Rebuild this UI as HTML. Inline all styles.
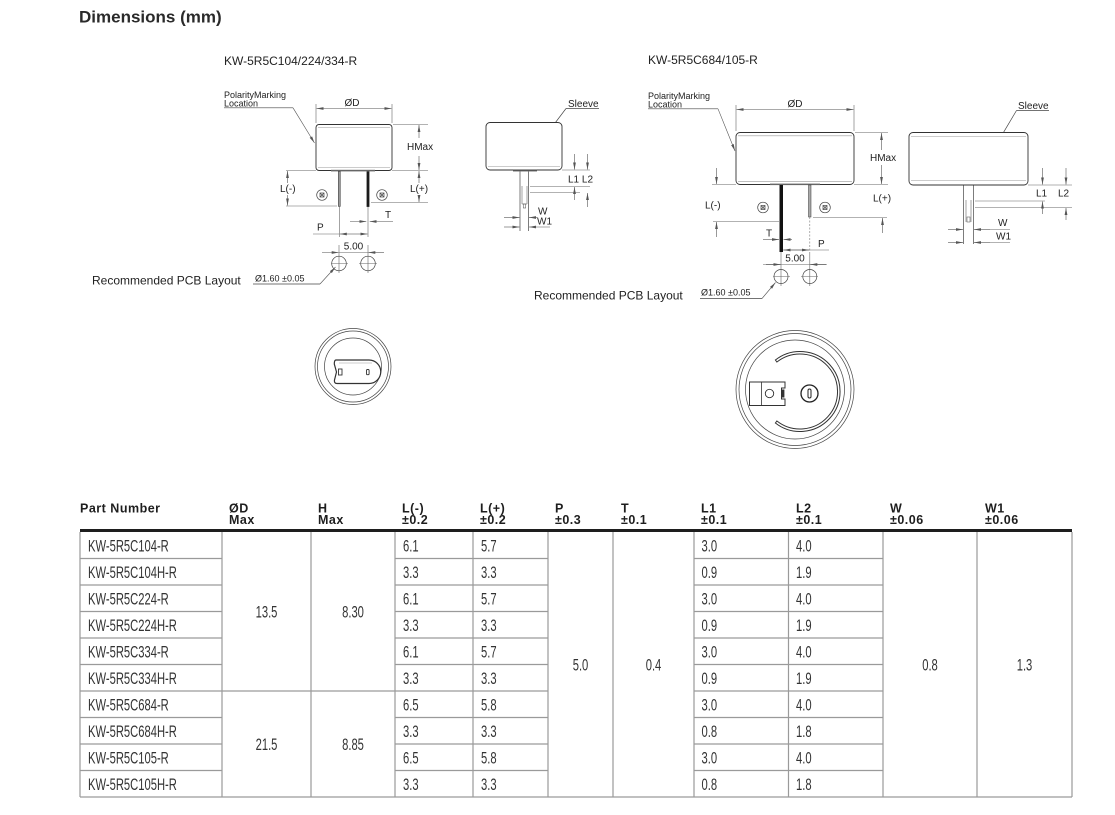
<!DOCTYPE html>
<html>
<head>
<meta charset="utf-8">
<style>
  html,body{margin:0;padding:0;background:#fff;}
  body{width:1115px;height:815px;overflow:hidden;position:relative;}
  svg{position:absolute;left:0;top:0;}
  .s{fill:#fff;stroke:#333;stroke-width:.9}
  .l{fill:none;stroke:#444;stroke-width:.7}
  .g{fill:none;stroke:#999;stroke-width:.6}
  .x{fill:none;stroke:#666;stroke-width:.6}
  .a{fill:none;stroke:#555;stroke-width:.6;marker-end:url(#ar)}
  .d{font-family:"Liberation Sans",sans-serif;font-size:10px;fill:#222}
  .sm{font-family:"Liberation Sans",sans-serif;font-size:9px;fill:#222}
  .h{font-family:"Liberation Sans",sans-serif;font-size:12px;fill:#222}
  .hd{font-family:"Liberation Sans",sans-serif;font-size:12.5px;font-weight:bold;fill:#1e1e1e;letter-spacing:.5px}
  .td{font-family:"Liberation Sans",sans-serif;font-size:17px;fill:#333}
  .grid{stroke:#9a9a9a;stroke-width:1.2;fill:none}
</style>
</head>
<body>
<svg width="1115" height="815" viewBox="0 0 1115 815" xmlns="http://www.w3.org/2000/svg">
<defs>
  <marker id="ar" viewBox="0 0 8 4" refX="8" refY="2" markerWidth="7" markerHeight="3.5" markerUnits="userSpaceOnUse" orient="auto">
    <path d="M0,0.4 L8,2 L0,3.6 Z" fill="#555"/>
  </marker>
</defs>

<!-- Title -->
<text x="79" y="22.5" style="font-family:'Liberation Sans',sans-serif;font-size:17px;font-weight:bold;fill:#2a2a2a">Dimensions (mm)</text>
<text x="224" y="65" class="h">KW-5R5C104/224/334-R</text>
<text x="648" y="64" class="h">KW-5R5C684/105-R</text>

<!-- ===== Drawing A : left front ===== -->
<text x="224" y="98" class="sm">PolarityMarking</text>
<text x="224" y="106.3" class="sm">Location</text>
<line x1="224" y1="107.8" x2="293" y2="107.8" class="l"/>
<line x1="293" y1="107.8" x2="314.5" y2="143" class="a"/>

<line x1="316" y1="104" x2="316" y2="123" class="x"/>
<line x1="392" y1="104" x2="392" y2="123" class="x"/>
<line x1="352" y1="108.5" x2="316.5" y2="108.5" class="a"/>
<line x1="352" y1="108.5" x2="391.5" y2="108.5" class="a"/>
<text x="352" y="106" class="d" text-anchor="middle">ØD</text>

<rect x="316" y="124.5" width="76" height="46" rx="3" class="s"/>
<line x1="318" y1="127.5" x2="390" y2="127.5" class="g"/>
<line x1="318" y1="167.5" x2="390" y2="167.5" class="g"/>
<rect x="331" y="169.8" width="44" height="1.6" fill="#666"/>

<line x1="393" y1="124.5" x2="428" y2="124.5" class="x"/>
<line x1="286" y1="170.5" x2="316" y2="170.5" class="x"/>
<line x1="392" y1="170.5" x2="428" y2="170.5" class="x"/>
<line x1="419" y1="138" x2="419" y2="125" class="a"/>
<line x1="419" y1="156" x2="419" y2="170" class="a"/>
<text x="407" y="150" class="d">HMax</text>

<rect x="338.3" y="171.4" width="2" height="35" fill="#999" stroke="#333" stroke-width=".5"/>
<rect x="366.6" y="171.4" width="2.8" height="35.5" fill="#1a1a1a"/>

<line x1="287.5" y1="183" x2="287.5" y2="171" class="a"/>
<line x1="287.5" y1="195" x2="287.5" y2="205.5" class="a"/>
<line x1="286" y1="206" x2="337" y2="206" class="x"/>
<text x="280" y="192" class="d">L(-)</text>

<line x1="419" y1="183" x2="419" y2="171" class="a"/>
<line x1="419" y1="195" x2="419" y2="202" class="a"/>
<line x1="371" y1="202.5" x2="428" y2="202.5" class="x"/>
<text x="410" y="192" class="d">L(+)</text>

<g class="l">
  <circle cx="322" cy="195" r="5.3"/>
  <rect x="320" y="193" width="4" height="4"/>
  <line x1="320" y1="193" x2="324" y2="197"/><line x1="324" y1="193" x2="320" y2="197"/>
  <circle cx="382" cy="195" r="5.3"/>
  <rect x="380" y="193" width="4" height="4"/>
  <line x1="380" y1="193" x2="384" y2="197"/><line x1="384" y1="193" x2="380" y2="197"/>
</g>

<line x1="350" y1="221.5" x2="366.3" y2="221.5" class="a"/>
<line x1="393" y1="221.5" x2="369.7" y2="221.5" class="a"/>
<text x="385" y="218" class="d">T</text>

<line x1="339.3" y1="206.5" x2="339.3" y2="237" class="x"/>
<line x1="368" y1="207" x2="368" y2="237" class="x"/>
<line x1="313" y1="234" x2="339.3" y2="234" class="x"/>
<line x1="354" y1="234" x2="339.8" y2="234" class="a"/>
<line x1="354" y1="234" x2="367.5" y2="234" class="a"/>
<text x="317" y="230.5" class="d">P</text>

<line x1="339" y1="252.5" x2="368" y2="252.5" class="x"/>
<line x1="322" y1="252.5" x2="338.7" y2="252.5" class="a"/>
<line x1="384" y1="252.5" x2="368.3" y2="252.5" class="a"/>
<text x="353.5" y="249.5" class="d" text-anchor="middle">5.00</text>
<line x1="339" y1="245" x2="339" y2="273" class="x"/>
<line x1="368" y1="245" x2="368" y2="273" class="x"/>
<circle cx="339" cy="263.5" r="7.3" class="l"/>
<circle cx="368" cy="263.5" r="7.3" class="l"/>
<line x1="331" y1="263.5" x2="348" y2="263.5" class="x"/>
<line x1="359" y1="263.5" x2="377" y2="263.5" class="x"/>
<line x1="320" y1="284" x2="335.5" y2="267" class="a"/>
<line x1="253" y1="284" x2="320" y2="284" class="l"/>
<text x="255" y="281.5" class="sm">Ø1.60 ±0.05</text>
<text x="92" y="284.5" class="h">Recommended PCB Layout</text>

<!-- ===== Drawing B : left side ===== -->
<text x="568" y="107" class="d">Sleeve</text>
<line x1="566" y1="108.5" x2="599" y2="108.5" class="l"/>
<line x1="566" y1="108.5" x2="538.5" y2="145" class="l"/>
<circle cx="538.5" cy="145" r="1.6" fill="#222"/>

<rect x="486" y="122.5" width="76" height="47.5" rx="4" class="s"/>
<line x1="488" y1="166.5" x2="560" y2="166.5" class="g"/>
<rect x="513" y="169.8" width="24" height="1.6" fill="#555"/>

<line x1="520" y1="171.5" x2="520" y2="231" class="l"/>
<line x1="528.5" y1="171.5" x2="528.5" y2="231" class="l"/>
<line x1="522" y1="186" x2="522" y2="204" class="x"/>
<line x1="527" y1="186" x2="527" y2="204" class="x"/>
<line x1="522" y1="204" x2="527" y2="204" class="x"/>
<rect x="523.3" y="204" width="2.4" height="4" class="x"/>

<line x1="562" y1="170" x2="590" y2="170" class="x"/>
<line x1="574.5" y1="154" x2="574.5" y2="169.5" class="a"/>
<line x1="587.5" y1="154" x2="587.5" y2="169.5" class="a"/>
<line x1="530" y1="186.5" x2="590" y2="186.5" class="x"/>
<line x1="530" y1="192.5" x2="580" y2="192.5" class="x"/>
<line x1="574.5" y1="200" x2="574.5" y2="187" class="a"/>
<line x1="587.5" y1="207" x2="587.5" y2="193" class="a"/>
<text x="568" y="182.5" class="d">L1 L2</text>

<line x1="504" y1="217.5" x2="519.5" y2="217.5" class="a"/>
<line x1="537" y1="217.5" x2="529" y2="217.5" class="a"/>
<text x="538" y="214.3" class="d">W</text>
<line x1="504" y1="227" x2="519.5" y2="227" class="a"/>
<line x1="550" y1="227" x2="529" y2="227" class="a"/>
<text x="537" y="224.6" class="d">W1</text>

<!-- ===== Drawing C : right front ===== -->
<text x="648" y="99" class="sm">PolarityMarking</text>
<text x="648" y="107.3" class="sm">Location</text>
<line x1="648" y1="108.8" x2="718" y2="108.8" class="l"/>
<line x1="718" y1="108.8" x2="735" y2="151" class="a"/>

<line x1="736" y1="105" x2="736" y2="131" class="x"/>
<line x1="854" y1="105" x2="854" y2="131" class="x"/>
<line x1="795" y1="109.5" x2="736.5" y2="109.5" class="a"/>
<line x1="795" y1="109.5" x2="853.5" y2="109.5" class="a"/>
<text x="795" y="107" class="d" text-anchor="middle">ØD</text>

<rect x="736" y="132.5" width="118" height="52" rx="4" class="s"/>
<line x1="738" y1="135.8" x2="852" y2="135.8" class="g"/>
<line x1="738" y1="181.3" x2="852" y2="181.3" class="g"/>
<rect x="770" y="183.6" width="50" height="1.5" fill="#666"/>

<line x1="855" y1="132.5" x2="888" y2="132.5" class="x"/>
<line x1="712" y1="184.5" x2="736" y2="184.5" class="x"/>
<line x1="854" y1="184.5" x2="888" y2="184.5" class="x"/>
<line x1="881.5" y1="150" x2="881.5" y2="133" class="a"/>
<line x1="881.5" y1="165" x2="881.5" y2="184" class="a"/>
<text x="870" y="161" class="d">HMax</text>

<rect x="779.5" y="185" width="3.5" height="67" fill="#111"/>
<rect x="808.5" y="185" width="2.5" height="32" fill="#aaa" stroke="#333" stroke-width=".5"/>
<line x1="809.8" y1="217" x2="809.8" y2="252" stroke="#777" stroke-width=".6" stroke-dasharray="2 1.5"/>

<line x1="716.5" y1="168" x2="716.5" y2="184" class="a"/>
<line x1="716.5" y1="237" x2="716.5" y2="222" class="a"/>
<line x1="713" y1="221.5" x2="779" y2="221.5" class="x"/>
<text x="705" y="208.5" class="d">L(-)</text>

<line x1="882.5" y1="233" x2="882.5" y2="218" class="a"/>
<line x1="813" y1="217.5" x2="887" y2="217.5" class="x"/>
<text x="873" y="201.5" class="d">L(+)</text>

<g class="l">
  <circle cx="763" cy="207.5" r="5.3"/>
  <rect x="761" y="205.5" width="4" height="4"/>
  <line x1="761" y1="205.5" x2="765" y2="209.5"/><line x1="765" y1="205.5" x2="761" y2="209.5"/>
  <circle cx="825" cy="207.5" r="5.3"/>
  <rect x="823" y="205.5" width="4" height="4"/>
  <line x1="823" y1="205.5" x2="827" y2="209.5"/><line x1="827" y1="205.5" x2="823" y2="209.5"/>
</g>

<line x1="763" y1="239.5" x2="779" y2="239.5" class="a"/>
<line x1="792" y1="239.5" x2="783.5" y2="239.5" class="a"/>
<text x="766" y="236.5" class="d">T</text>

<line x1="783" y1="250" x2="829" y2="250" class="x"/>
<line x1="796" y1="250" x2="783.5" y2="250" class="a"/>
<line x1="796" y1="250" x2="809" y2="250" class="a"/>
<text x="818" y="247" class="d">P</text>

<line x1="763" y1="264.5" x2="827" y2="264.5" class="x"/>
<line x1="766" y1="264.5" x2="780.5" y2="264.5" class="a"/>
<line x1="826" y1="264.5" x2="810.3" y2="264.5" class="a"/>
<text x="795" y="261.5" class="d" text-anchor="middle">5.00</text>
<line x1="781" y1="252" x2="781" y2="286" class="x"/>
<line x1="809.8" y1="252" x2="809.8" y2="286" class="x"/>
<circle cx="781" cy="276.5" r="7" class="l"/>
<circle cx="809.8" cy="276.5" r="7" class="l"/>
<line x1="773" y1="276.5" x2="790" y2="276.5" class="x"/>
<line x1="801" y1="276.5" x2="818" y2="276.5" class="x"/>
<line x1="762" y1="298.5" x2="775.5" y2="282.5" class="a"/>
<line x1="700" y1="298.5" x2="762" y2="298.5" class="l"/>
<text x="701" y="295.5" class="sm">Ø1.60 ±0.05</text>
<text x="534" y="299.5" class="h">Recommended PCB Layout</text>

<!-- ===== Drawing D : right side ===== -->
<text x="1018" y="109" class="d">Sleeve</text>
<line x1="1016.5" y1="110.5" x2="1049" y2="110.5" class="l"/>
<line x1="1016.5" y1="110.5" x2="991" y2="153.5" class="l"/>
<circle cx="991" cy="153.5" r="1.6" fill="#222"/>

<rect x="909" y="132.5" width="119" height="52.5" rx="4" class="s"/>
<line x1="911" y1="136.5" x2="1026" y2="136.5" class="g"/>
<line x1="911" y1="180.5" x2="1026" y2="180.5" class="g"/>

<line x1="1028" y1="185" x2="1072" y2="185" class="x"/>
<line x1="1042.5" y1="168" x2="1042.5" y2="184.5" class="a"/>
<line x1="1066" y1="168" x2="1066" y2="184.5" class="a"/>
<line x1="975" y1="201" x2="1045" y2="201" class="x"/>
<line x1="975" y1="207.5" x2="1072" y2="207.5" class="x"/>
<line x1="1042.5" y1="214" x2="1042.5" y2="201.5" class="a"/>
<line x1="1066" y1="220" x2="1066" y2="208" class="a"/>
<text x="1036" y="196.5" class="d">L1</text>
<text x="1058" y="196.5" class="d">L2</text>

<line x1="963.5" y1="185.5" x2="963.5" y2="244" class="l"/>
<line x1="973.5" y1="185.5" x2="973.5" y2="244" class="l"/>
<line x1="966" y1="200" x2="966" y2="222" class="x"/>
<line x1="971" y1="200" x2="971" y2="222" class="x"/>
<rect x="967" y="217" width="3" height="5" class="x"/>

<line x1="948" y1="229.5" x2="963" y2="229.5" class="a"/>
<line x1="990" y1="229.5" x2="974" y2="229.5" class="a"/>
<line x1="990" y1="229.5" x2="1010" y2="229.5" class="x"/>
<text x="998" y="226" class="d">W</text>
<line x1="948" y1="242.5" x2="963" y2="242.5" class="a"/>
<line x1="990" y1="242.5" x2="974" y2="242.5" class="a"/>
<line x1="990" y1="242.5" x2="1010" y2="242.5" class="x"/>
<text x="996" y="239.5" class="d">W1</text>

<!-- ===== Bottom view E ===== -->
<circle cx="353" cy="366.5" r="38" class="l"/>
<circle cx="353" cy="366.5" r="35.5" class="l"/>
<circle cx="353" cy="366.5" r="28.5" class="l"/>
<path d="M336,360 H369 A11.75,11.75 0 0 1 369,383.5 H337 Q334,383.5 334.5,380 L336.5,372 L334.3,364 Q334.3,360 336,360 Z" fill="#fff" stroke="#333" stroke-width="1.2"/>
<line x1="339" y1="363" x2="372" y2="363" class="g"/>
<rect x="338.5" y="369" width="3.5" height="6" fill="none" stroke="#333" stroke-width=".9"/>
<rect x="366.5" y="369.5" width="2.6" height="5.2" rx="1" fill="none" stroke="#333" stroke-width=".9"/>

<!-- ===== Bottom view F ===== -->
<circle cx="795" cy="389.5" r="59" class="l"/>
<circle cx="795" cy="389.5" r="56" class="l"/>
<circle cx="795" cy="389.5" r="49.5" class="l"/>
<path d="M775.4,360 A40,40 0 1 1 775.4,423 L776.9,421 A37.5,37.5 0 1 0 776.9,362 Z" fill="#fff" stroke="#333" stroke-width="1"/>
<path d="M749.5,382 H785 V388 H781.5 V399 H785 V405.5 H749.5 Z" fill="#fff" stroke="#333" stroke-width="1"/>
<line x1="761.5" y1="382" x2="761.5" y2="405.5" stroke="#333" stroke-width=".8"/>
<circle cx="769.5" cy="393.5" r="4.2" fill="none" stroke="#333" stroke-width=".9"/>
<rect x="781.8" y="389.5" width="2.6" height="8" fill="#333"/>
<circle cx="809.5" cy="393.5" r="8.5" fill="none" stroke="#222" stroke-width="1.3"/>
<rect x="808" y="389" width="3" height="9" rx="1.5" fill="none" stroke="#222" stroke-width="1"/>

<!-- ===== Table ===== -->
<g>
  <text x="80" y="512.5" class="hd">Part Number</text>
  <text x="229" y="512.5" class="hd">ØD</text><text x="229" y="524" class="hd">Max</text>
  <text x="318" y="512.5" class="hd">H</text><text x="318" y="524" class="hd">Max</text>
  <text x="402" y="512.5" class="hd">L(-)</text><text x="402" y="524" class="hd">±0.2</text>
  <text x="480" y="512.5" class="hd">L(+)</text><text x="480" y="524" class="hd">±0.2</text>
  <text x="555" y="512.5" class="hd">P</text><text x="555" y="524" class="hd">±0.3</text>
  <text x="621" y="512.5" class="hd">T</text><text x="621" y="524" class="hd">±0.1</text>
  <text x="701" y="512.5" class="hd">L1</text><text x="701" y="524" class="hd">±0.1</text>
  <text x="796" y="512.5" class="hd">L2</text><text x="796" y="524" class="hd">±0.1</text>
  <text x="890" y="512.5" class="hd">W</text><text x="890" y="524" class="hd">±0.06</text>
  <text x="985" y="512.5" class="hd">W1</text><text x="985" y="524" class="hd">±0.06</text>
</g>

<rect x="80" y="529" width="992" height="3" fill="#1e1e1e"/>
<g class="grid">
  <line x1="80" y1="532" x2="80" y2="797"/>
  <line x1="222" y1="532" x2="222" y2="797"/>
  <line x1="311" y1="532" x2="311" y2="797"/>
  <line x1="395" y1="532" x2="395" y2="797"/>
  <line x1="473" y1="532" x2="473" y2="797"/>
  <line x1="548" y1="532" x2="548" y2="797"/>
  <line x1="613" y1="532" x2="613" y2="797"/>
  <line x1="694" y1="532" x2="694" y2="797"/>
  <line x1="788.5" y1="532" x2="788.5" y2="797"/>
  <line x1="883" y1="532" x2="883" y2="797"/>
  <line x1="977" y1="532" x2="977" y2="797"/>
  <line x1="1072" y1="532" x2="1072" y2="797"/>
  <line x1="80" y1="797" x2="1072" y2="797"/>
  <line x1="222" y1="691" x2="395" y2="691"/>
  <path d="M80,558.5H222M395,558.5H548M694,558.5H883
           M80,585H222M395,585H548M694,585H883
           M80,611.5H222M395,611.5H548M694,611.5H883
           M80,638H222M395,638H548M694,638H883
           M80,664.5H222M395,664.5H548M694,664.5H883
           M80,691H222M395,691H548M694,691H883
           M80,717.5H222M395,717.5H548M694,717.5H883
           M80,744H222M395,744H548M694,744H883
           M80,770.5H222M395,770.5H548M694,770.5H883"/>
</g>

<g class="td">
  <text transform="translate(88,551.5) scale(.66,1)">KW-5R5C104-R</text>
  <text transform="translate(403,551.5) scale(.66,1)">6.1</text>
  <text transform="translate(481,551.5) scale(.66,1)">5.7</text>
  <text transform="translate(701.5,551.5) scale(.66,1)">3.0</text>
  <text transform="translate(796,551.5) scale(.66,1)">4.0</text>

  <text transform="translate(88,578) scale(.66,1)">KW-5R5C104H-R</text>
  <text transform="translate(403,578) scale(.66,1)">3.3</text>
  <text transform="translate(481,578) scale(.66,1)">3.3</text>
  <text transform="translate(701.5,578) scale(.66,1)">0.9</text>
  <text transform="translate(796,578) scale(.66,1)">1.9</text>

  <text transform="translate(88,604.5) scale(.66,1)">KW-5R5C224-R</text>
  <text transform="translate(403,604.5) scale(.66,1)">6.1</text>
  <text transform="translate(481,604.5) scale(.66,1)">5.7</text>
  <text transform="translate(701.5,604.5) scale(.66,1)">3.0</text>
  <text transform="translate(796,604.5) scale(.66,1)">4.0</text>

  <text transform="translate(88,631) scale(.66,1)">KW-5R5C224H-R</text>
  <text transform="translate(403,631) scale(.66,1)">3.3</text>
  <text transform="translate(481,631) scale(.66,1)">3.3</text>
  <text transform="translate(701.5,631) scale(.66,1)">0.9</text>
  <text transform="translate(796,631) scale(.66,1)">1.9</text>

  <text transform="translate(88,657.5) scale(.66,1)">KW-5R5C334-R</text>
  <text transform="translate(403,657.5) scale(.66,1)">6.1</text>
  <text transform="translate(481,657.5) scale(.66,1)">5.7</text>
  <text transform="translate(701.5,657.5) scale(.66,1)">3.0</text>
  <text transform="translate(796,657.5) scale(.66,1)">4.0</text>

  <text transform="translate(88,684) scale(.66,1)">KW-5R5C334H-R</text>
  <text transform="translate(403,684) scale(.66,1)">3.3</text>
  <text transform="translate(481,684) scale(.66,1)">3.3</text>
  <text transform="translate(701.5,684) scale(.66,1)">0.9</text>
  <text transform="translate(796,684) scale(.66,1)">1.9</text>

  <text transform="translate(88,710.5) scale(.66,1)">KW-5R5C684-R</text>
  <text transform="translate(403,710.5) scale(.66,1)">6.5</text>
  <text transform="translate(481,710.5) scale(.66,1)">5.8</text>
  <text transform="translate(701.5,710.5) scale(.66,1)">3.0</text>
  <text transform="translate(796,710.5) scale(.66,1)">4.0</text>

  <text transform="translate(88,737) scale(.66,1)">KW-5R5C684H-R</text>
  <text transform="translate(403,737) scale(.66,1)">3.3</text>
  <text transform="translate(481,737) scale(.66,1)">3.3</text>
  <text transform="translate(701.5,737) scale(.66,1)">0.8</text>
  <text transform="translate(796,737) scale(.66,1)">1.8</text>

  <text transform="translate(88,763.5) scale(.66,1)">KW-5R5C105-R</text>
  <text transform="translate(403,763.5) scale(.66,1)">6.5</text>
  <text transform="translate(481,763.5) scale(.66,1)">5.8</text>
  <text transform="translate(701.5,763.5) scale(.66,1)">3.0</text>
  <text transform="translate(796,763.5) scale(.66,1)">4.0</text>

  <text transform="translate(88,790) scale(.66,1)">KW-5R5C105H-R</text>
  <text transform="translate(403,790) scale(.66,1)">3.3</text>
  <text transform="translate(481,790) scale(.66,1)">3.3</text>
  <text transform="translate(701.5,790) scale(.66,1)">0.8</text>
  <text transform="translate(796,790) scale(.66,1)">1.8</text>

  <text transform="translate(266.5,617.5) scale(.66,1)" text-anchor="middle">13.5</text>
  <text transform="translate(353,617.5) scale(.66,1)" text-anchor="middle">8.30</text>
  <text transform="translate(266.5,750) scale(.66,1)" text-anchor="middle">21.5</text>
  <text transform="translate(353,750) scale(.66,1)" text-anchor="middle">8.85</text>
  <text transform="translate(580.5,670.5) scale(.66,1)" text-anchor="middle">5.0</text>
  <text transform="translate(653.5,670.5) scale(.66,1)" text-anchor="middle">0.4</text>
  <text transform="translate(930,670.5) scale(.66,1)" text-anchor="middle">0.8</text>
  <text transform="translate(1024.5,670.5) scale(.66,1)" text-anchor="middle">1.3</text>
</g>
</svg>
</body>
</html>
